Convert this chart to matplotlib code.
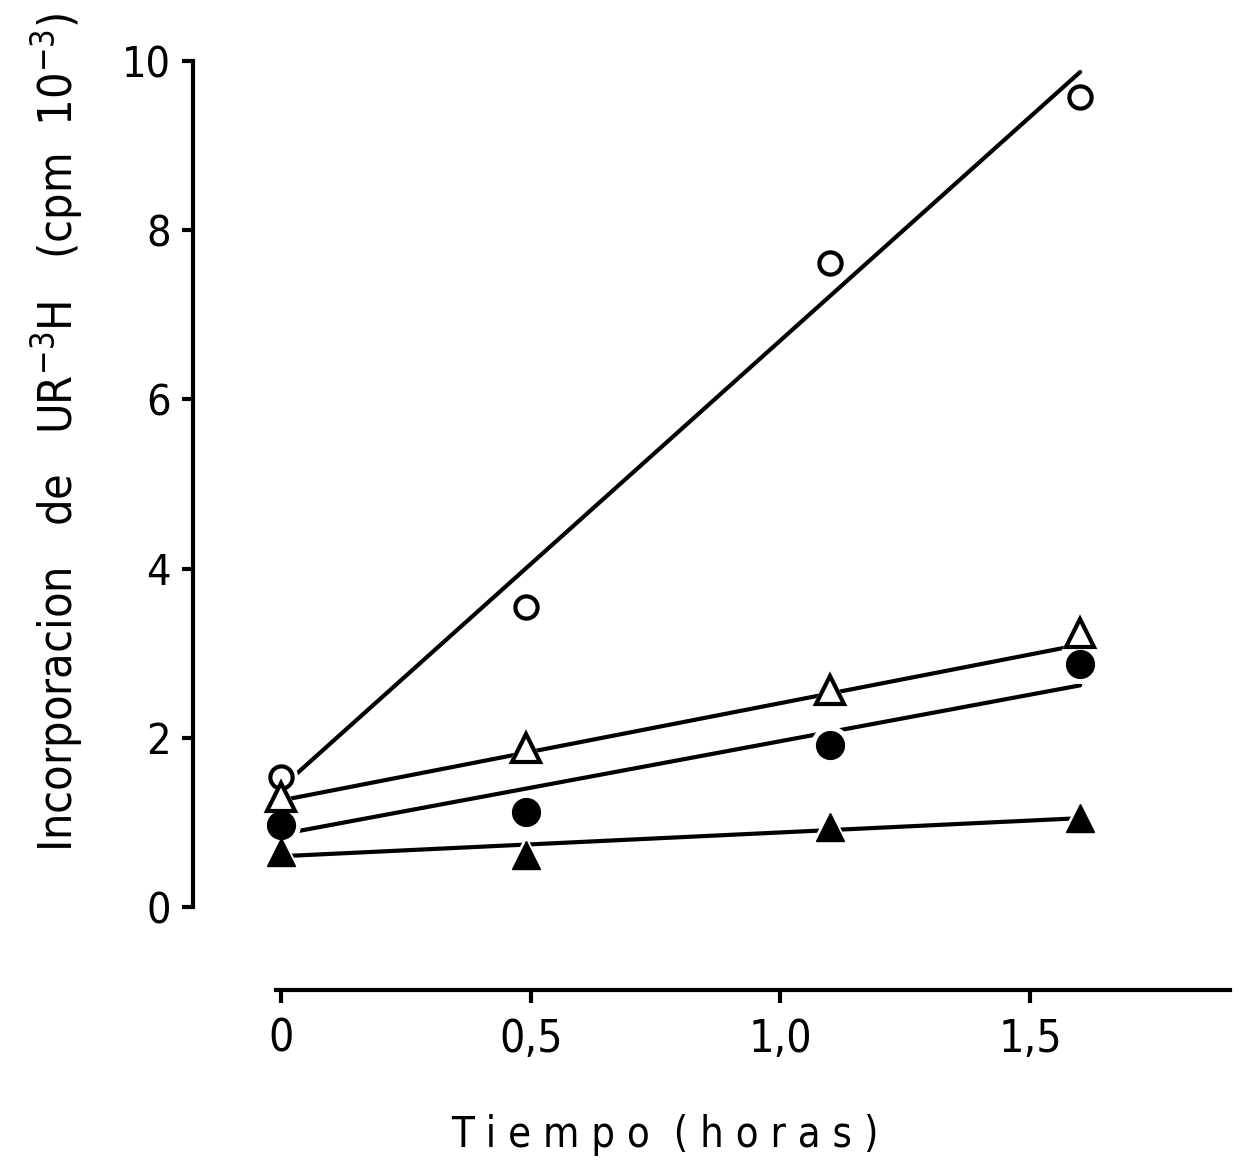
import matplotlib
matplotlib.use("Agg")
import matplotlib.pyplot as plt

# Incorporation of tritiated uridine over time, four conditions
tiempo = [0.0, 0.49, 1.1, 1.6]

open_circles = [1.54, 3.55, 7.61, 9.57]
open_triangles = [1.30, 1.88, 2.56, 3.24]
filled_circles = [0.97, 1.12, 1.91, 2.87]
filled_triangles = [0.65, 0.61, 0.95, 1.05]

# Fitted straight lines: values at the first and last time
fit_x = [0.0, 1.6]
fit_open_circles = [1.41, 9.87]
fit_open_triangles = [1.26, 3.10]
fit_filled_circles = [0.86, 2.62]
fit_filled_triangles = [0.60, 1.05]

y_ticks = [0, 2, 4, 6, 8, 10]
x_ticks = [0, 0.5, 1.0, 1.5]
x_tick_labels = ["0", "0,5", "1,0", "1,5"]

plt.rcParams["font.family"] = ["DejaVu Sans"]
plt.rcParams["font.stretch"] = "condensed"
plt.rcParams["mathtext.fontset"] = "dejavusans"

W, H = 1252, 1163
fig = plt.figure(figsize=(W / 100, H / 100), dpi=100)
ax = fig.add_axes([281 / W, 1 - 907 / H, 949 / W, 846 / H])

ax.set_xlim(0, 1.90)
ax.set_ylim(0, 10)

LW = 3.0

series = [
    (open_circles, fit_open_circles, "o", "white", 16, 3.0),
    (open_triangles, fit_open_triangles, "^", "white", 19.5, 3.0),
    (filled_circles, fit_filled_circles, "o", "black", 20, 1.0),
    (filled_triangles, fit_filled_triangles, "^", "black", 20.5, 1.0),
]

for vals, fit, mk, face, ms, mew in series:
    ax.plot(fit_x, fit, color="black", lw=LW, solid_capstyle="round",
            clip_on=False, zorder=2)
for vals, fit, mk, face, ms, mew in series:
    # white halo leaves a small gap where the line meets a marker
    ax.plot(tiempo, vals, linestyle="none", marker=mk, ms=ms + 8,
            mfc="white", mec="white", mew=0, clip_on=False, zorder=3)
for vals, fit, mk, face, ms, mew in series:
    ax.plot(tiempo, vals, linestyle="none", marker=mk, ms=ms,
            mfc=face, mec="black", mew=mew, clip_on=False, zorder=4)

for side in ("top", "right"):
    ax.spines[side].set_visible(False)
ax.spines["left"].set_position(("outward", 88 * 72 / 100))
ax.spines["bottom"].set_position(("outward", 83 * 72 / 100))
ax.spines["left"].set_bounds(0, 10)
ax.spines["bottom"].set_bounds(-0.01, 1.90)
for side in ("left", "bottom"):
    ax.spines[side].set_linewidth(LW)

ax.set_yticks(y_ticks)
ax.set_yticklabels([str(v) for v in y_ticks])
ax.set_xticks(x_ticks)
ax.set_xticklabels(x_tick_labels)
ax.tick_params(axis="y", direction="out", length=8, width=LW, pad=8,
               labelsize=31)
ax.tick_params(axis="x", direction="out", length=9, width=LW, pad=11,
               labelsize=32)

fig.text(57 / W, 1 - 432 / H,
         r"Incorporacion   de   UR$^{-3}$H   (cpm  10$^{-3}$)",
         rotation=90, ha="center", va="center", fontsize=33.5)
fig.text(665 / W, 1 - 1135 / H, "T i e m p o  ( h o r a s )",
         ha="center", va="center", fontsize=30)

fig.savefig("out.png", dpi=100, facecolor="white")
